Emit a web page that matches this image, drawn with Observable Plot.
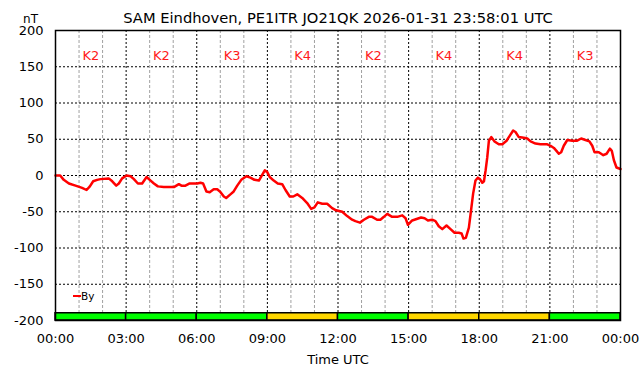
<!DOCTYPE html>
<html><head><meta charset="utf-8">
<script src="https://cdn.jsdelivr.net/npm/d3@7"></script>
<script src="https://cdn.jsdelivr.net/npm/@observablehq/plot@0.6"></script>
<style>
body{margin:0;background:#fff;}
#wrap{position:relative;width:642px;height:376px;font-family:"DejaVu Sans",sans-serif;}
#legend{position:absolute;left:73px;top:290px;font-size:10.5px;line-height:12px;display:flex;align-items:center;color:#000;}
#legend .sw{display:inline-block;width:8px;height:2px;background:#f00;}
</style></head><body><div id="wrap"></div>
<script>
const title = "SAM Eindhoven, PE1ITR JO21QK 2026-01-31 23:58:01 UTC";
const yLabel = "nT";
const xLabel = "Time UTC";
const seriesName = "By";

const hours = [0,0.2,0.35,0.57,0.85,1.13,1.32,1.46,1.6,1.77,1.91,2.26,2.41,2.58,2.69,2.83,3.02,3.19,3.33,3.5,3.68,3.87,4.04,4.18,4.35,4.6,5.03,5.24,5.35,5.52,5.7,6.02,6.16,6.27,6.41,6.55,6.72,6.87,7.01,7.15,7.25,7.43,7.57,7.72,7.89,8.11,8.28,8.45,8.64,8.78,8.89,8.99,9.1,9.27,9.44,9.63,9.77,9.95,10.1,10.27,10.48,10.69,10.86,11.0,11.14,11.33,11.54,11.75,11.92,12.18,12.39,12.6,12.74,12.93,13.1,13.31,13.45,13.66,13.8,13.95,14.09,14.3,14.52,14.73,14.87,14.97,15.15,15.34,15.53,15.68,15.82,16.0,16.14,16.28,16.43,16.61,16.78,16.95,17.13,17.25,17.33,17.43,17.56,17.64,17.74,17.84,17.94,18.03,18.13,18.2,18.27,18.34,18.41,18.51,18.65,18.83,18.98,19.16,19.3,19.44,19.54,19.68,19.89,20.04,20.18,20.39,20.6,20.89,21.03,21.17,21.28,21.38,21.48,21.59,21.74,21.95,22.16,22.33,22.51,22.68,22.8,22.9,23.08,23.27,23.41,23.55,23.63,23.72,23.83,24];
const byValues = [0,0,-6,-11,-14,-17,-20,-15,-8,-6,-5,-4,-8,-14,-11,-4,0,-1,-5,-11,-11,-2,-7,-11,-15,-16,-16,-12,-14,-14,-11,-11,-10,-11,-22,-23,-19,-19,-23,-29,-31,-26,-22,-14,-6,-1,-3,-6,-7,1,7,5,-2,-7,-11,-12,-20,-29,-29,-26,-31,-38,-46,-44,-37,-39,-39,-45,-48,-50,-56,-61,-63,-65,-61,-57,-57,-61,-61,-57,-53,-57,-57,-55,-59,-68,-62,-60,-58,-59,-62,-61,-63,-70,-74,-69,-74,-79,-79,-80,-87,-86,-72,-51,-25,-7,-3,-5,-10,-8,7,25,48,53,47,43,43,48,55,62,60,53,52,51,47,44,43,43,41,38,34,30,32,41,49,48,48,51,49,47,41,32,32,28,30,37,34,21,11,9];

const kStart = [0,3,6,9,12,15,18,21];
const kLabels = ["K2","K2","K3","K4","K2","K4","K4","K3"];
const kValues = [2,2,3,4,2,4,4,3];
const barBottom = -200, barTop = -190;

const xTickValues = [0,3,6,9,12,15,18,21,24];
const xTickLabels = ["00:00","03:00","06:00","09:00","12:00","15:00","18:00","21:00","00:00"];
const yTickValues = [-200,-150,-100,-50,0,50,100,150,200];
const yTickLabels = ["-200","-150","-100","-50","0","50","100","150","200"];
const minorX = [1,2,4,5,7,8,10,11,13,14,16,17,19,20,22,23];
const majorX = [3,6,9,12,15,18,21];
const gridY = [-150,-100,-50,0,50,100,150];

const series = hours.map((h,i)=>({h, v: byValues[i]}));
const kData = kStart.map((s,i)=>({start:s, end:s+3, mid:s+1.5, label:kLabels[i], k:kValues[i], y1:barBottom, y2:barTop}));

const chart = Plot.plot({
  width:642, height:376,
  marginLeft:55, marginRight:22, marginTop:30, marginBottom:56,
  style:{fontFamily:"'DejaVu Sans', sans-serif", fontSize:"13px", background:"#fff", color:"#000", overflow:"visible"},
  x:{domain:[0,24]},
  y:{domain:[-200,200]},
  marks:[
    Plot.ruleX(minorX, {stroke:"#a0a0a0", strokeWidth:1, strokeDasharray:"3,2"}),
    Plot.ruleX(majorX, {stroke:"#000", strokeWidth:1, strokeDasharray:"2,2"}),
    Plot.ruleY(gridY, {stroke:"#000", strokeWidth:1, strokeDasharray:"2,2"}),
    Plot.rect(kData, {x1:"start", x2:"end", y1:"y1", y2:"y2", fill:d=>d.k>=4?"#ffd700":"#00ff00", stroke:"#000", strokeWidth:1.5}),
    Plot.line(series, {x:"h", y:"v", stroke:"#ff0000", strokeWidth:2.5}),
    Plot.text(kData, {x:"mid", text:"label", frameAnchor:"top", dy:20, fill:"#ff1a1a", fontSize:13}),
    Plot.frame({stroke:"#000", strokeWidth:1.5}),
    Plot.axisX({ticks:xTickValues, tickFormat:d=>xTickLabels[xTickValues.indexOf(d)], tickSize:0, tickPadding:13, label:null, fontSize:13}),
    Plot.axisY({ticks:yTickValues, tickFormat:d=>yTickLabels[yTickValues.indexOf(d)], tickSize:0, tickPadding:12, label:null, fontSize:13}),
    Plot.text([title], {text:d=>d, frameAnchor:"top", dy:-18, fontSize:14.7}),
    Plot.text([xLabel], {text:d=>d, frameAnchor:"bottom", dy:43, fontSize:13}),
    Plot.text([yLabel], {text:d=>d, frameAnchor:"top-left", dx:-25, dy:-16, textAnchor:"middle", fontSize:12})
  ]
});
const wrap = document.getElementById("wrap");
wrap.appendChild(chart);
const lg = document.createElement("div");
lg.id = "legend";
lg.innerHTML = '<span class="sw"></span><span>'+seriesName+'</span>';
wrap.appendChild(lg);
</script>
</body></html>
